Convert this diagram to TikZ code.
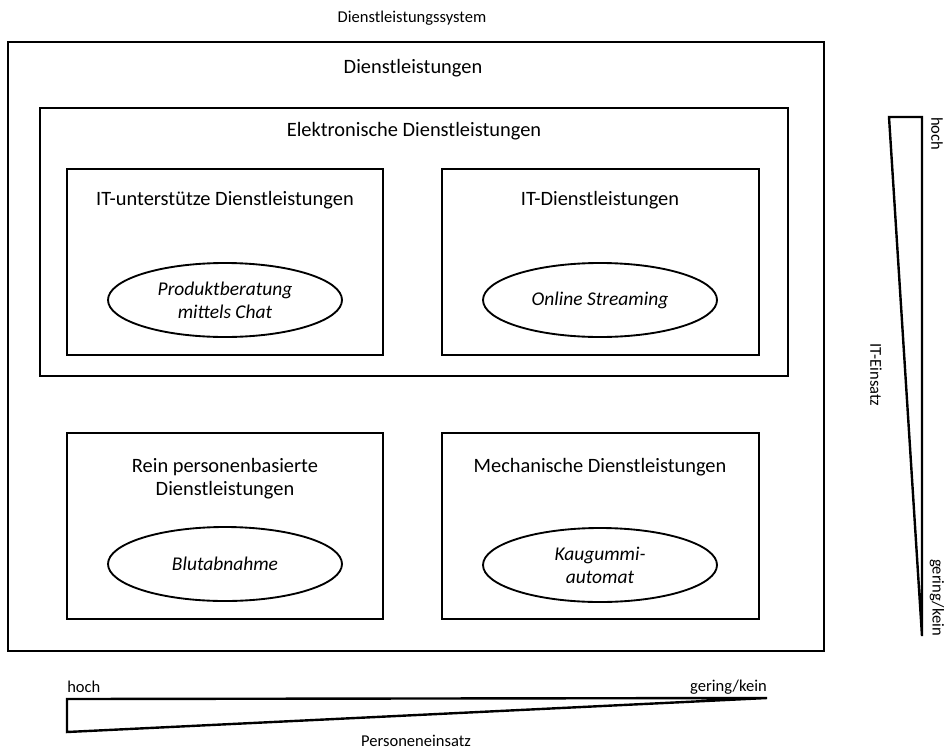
\documentclass[tikz,border=0pt]{standalone}
\usepackage{fontspec}
\setmainfont{Carlito}
\usetikzlibrary{fit,shapes.geometric}

\tikzset{
  frame/.style={draw, line width=1.8pt, inner sep=0pt},
  oval/.style={draw, ellipse, line width=1.4pt, inner sep=0pt,
    minimum width=175.5pt, minimum height=55.5pt,
    font=\fontsize{14.6}{17.25}\selectfont\itshape, align=center},
  boxtitle/.style={font=\fontsize{15.3}{17.25}\selectfont, align=center, inner sep=0pt},
  scalelabel/.style={font=\fontsize{12.4}{14}\selectfont, inner sep=0pt},
  wedge/.style={draw, line width=1.8pt, line join=miter}
}

\begin{document}
\begin{tikzpicture}[x=0.75pt, y=-0.75pt]
\useasboundingbox (0,0) rectangle (944,749);

% system label and outer frame
\node[scalelabel] (systitle) at (412,18) {Dienstleistungssystem};
\node[frame, fit={(8,42) (824,651)}] (services) {};
\node[boxtitle] (servtitle) at (413,68) {Dienstleistungen};

% electronic services
\node[frame, fit={(40,108) (788,376)}] (electronic) {};
\node[boxtitle] (eltitle) at (414,131) {Elektronische Dienstleistungen};

\node[frame, fit={(67,169) (383,355)}] (itsupported) {};
\node[boxtitle] (itsuptitle) at (225,200) {IT-unterstütze Dienstleistungen};
\node[oval] (chat) at (225,300) {Produktberatung\\mittels Chat};

\node[frame, fit={(442,169) (759,355)}] (itservices) {};
\node[boxtitle] (itsrvtitle) at (600,200) {IT-Dienstleistungen};
\node[oval] (streaming) at (600,300) {Online Streaming};

% non-electronic services
\node[frame, fit={(67,433) (383,619)}] (personal) {};
\node[boxtitle] (perstitle) at (225,478.5) {Rein personenbasierte\\Dienstleistungen};
\node[oval] (blood) at (225,564) {Blutabnahme};

\node[frame, fit={(442,433) (759,619)}] (mechanical) {};
\node[boxtitle] (mechtitle) at (600,467) {Mechanische Dienstleistungen};
\node[oval] (gum) at (600,565) {Kaugummi-\\automat};

% scale: IT usage (vertical wedge)
\coordinate (itA) at (889,117);
\coordinate (itB) at (922,117);
\coordinate (itC) at (922,636);
\draw[wedge] (itA) -- (itB) -- (itC) -- cycle;
\node[scalelabel, rotate=-90, anchor=west] (ithigh) at (937,117) {hoch};
\node[scalelabel, rotate=-90, anchor=east] (itlow) at (937,636) {gering/kein};
\node[scalelabel, rotate=-90] (itlabel) at (876,375) {IT-Einsatz};

% scale: staff usage (horizontal wedge)
\coordinate (peA) at (67,699);
\coordinate (peB) at (767,698);
\coordinate (peC) at (67,732);
\draw[wedge] (peA) -- (peB) -- (peC) -- cycle;
\node[scalelabel, anchor=west] (pehigh) at (67,687) {hoch};
\node[scalelabel, anchor=east] (pelow) at (767,687) {gering/kein};
\node[scalelabel] (pelabel) at (416,741) {Personeneinsatz};
\end{tikzpicture}
\end{document}
